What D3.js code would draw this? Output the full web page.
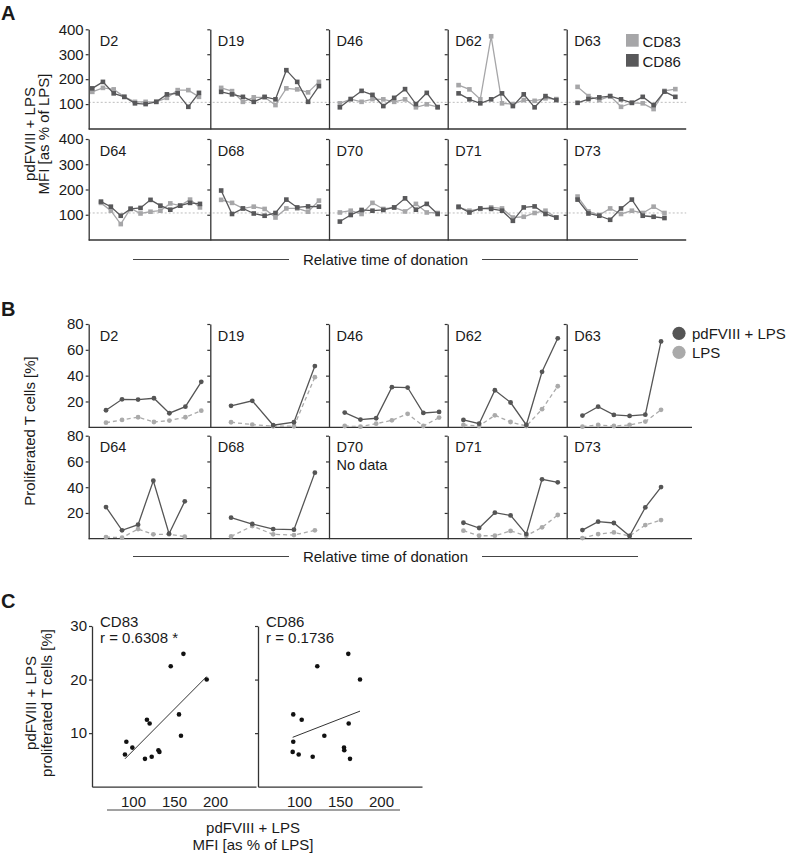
<!DOCTYPE html>
<html>
<head>
<meta charset="utf-8">
<script src="https://cdn.jsdelivr.net/npm/d3@7"></script>
<style>
  body { margin: 0; background: #fff; }
  svg text { font-family: "Liberation Sans", Arial, sans-serif; fill: #1a1a1a; }
</style>
</head>
<body>
<svg id="fig" width="787" height="856"></svg>
<script>
// data ------------------
const donors = ['D2', 'D19', 'D46', 'D62', 'D63', 'D64', 'D68', 'D70', 'D71', 'D73']

// A: MFI [as % of LPS] per donation (relative time index)
const timeA = [
    [-0.67, 0.31, 1.3, 2.28, 3.26, 4.24, 5.22, 6.2, 7.19, 8.17, 9.15],
    [0, 1, 2, 3, 4, 5, 6, 7, 8, 9],
    [0, 1, 2, 3, 4, 5, 6, 7, 8, 9],
    [0, 1, 2, 3, 4, 5, 6, 7, 8, 9],
    [0, 1, 2, 3, 4, 5, 6, 7, 8, 9],
    [0.13, 1.04, 1.95, 2.86, 3.77, 4.69, 5.6, 6.51, 7.42, 8.33, 9.24],
    [0, 1, 2, 3, 4, 5, 6, 7, 8, 9],
    [0, 1, 2, 3, 4, 5, 6, 7, 8, 9],
    [0, 1, 2, 3, 4, 5, 6, 7, 8, 9],
    [0, 1, 2, 3, 4, 5, 6, 7, 8]
]
const cd83A = [
    [149, 165, 159, 129, 109, 109, 109, 125, 156, 156, 129],
    [165, 152, 109, 127, 127, 96, 163, 159, 147, 189],
    [103, 120, 109, 120, 119, 109, 119, 87, 99, 89],
    [176, 159, 119, 372, 103, 100, 116, 113, 123, 120],
    [169, 132, 116, 132, 89, 105, 103, 80, 153, 160],
    [147, 116, 63, 125, 105, 112, 116, 145, 136, 160, 129],
    [159, 147, 125, 132, 123, 89, 125, 125, 112, 156],
    [109, 116, 103, 147, 123, 129, 113, 143, 109, 107],
    [129, 116, 123, 129, 125, 89, 92, 107, 116, 89],
    [172, 113, 99, 125, 103, 116, 107, 132, 107]
]
const cd86A = [
    [163, 189, 143, 129, 103, 100, 109, 139, 143, 89, 145],
    [149, 139, 129, 109, 129, 119, 236, 189, 109, 172],
    [87, 120, 153, 137, 92, 125, 160, 100, 145, 87],
    [143, 119, 103, 119, 143, 92, 139, 87, 132, 116],
    [105, 120, 127, 132, 119, 105, 129, 96, 150, 129],
    [152, 132, 96, 123, 127, 159, 136, 120, 136, 147, 143],
    [196, 103, 125, 105, 96, 107, 160, 129, 133, 132],
    [73, 99, 119, 116, 119, 129, 165, 120, 143, 103],
    [132, 109, 125, 123, 116, 76, 129, 133, 103, 89],
    [160, 105, 96, 80, 125, 160, 96, 92, 87]
]
const refMFI = 107
const ticksA = [100, 200, 300, 400]

// B: proliferated T cells [%]
const timeB = [
    [1.1, 2.12, 3.14, 4.15, 5.13, 6.15, 7.16],
    [1.32, 2.67, 4, 5.32, 6.65],
    [1, 2, 3, 4, 5, 6, 7],
    [1, 2, 3, 4, 5, 6, 7],
    [1, 2, 3, 4, 5, 6],
    [1.1, 2.12, 3.14, 4.11, 5.11, 6.11],
    [1.32, 2.67, 4, 5.32, 6.65],
    [],
    [1, 2, 3, 4, 5, 6, 7],
    [1, 2, 3, 4, 5, 6]
]
const pdB = [
    [13.2, 21.7, 21.5, 22.5, 10.9, 16, 35.2],
    [16.6, 20.5, 1.6, 3.9, 47.4],
    [11.4, 6, 7, 31.1, 30.8, 11.1, 11.9],
    [5.7, 2.8, 28.7, 19.2, 1.8, 43, 68.9],
    [9.1, 16, 9.6, 8.8, 9.8, 66.5],
    [24.6, 6.5, 10.9, 45, 3.9, 29],
    [16.3, 11.4, 7.5, 7, 51.3],
    [],
    [12.4, 8.3, 20.2, 18.1, 3.6, 46.1, 43.8],
    [6.7, 13.2, 12.2, 2.1, 24.3, 40.1]
]
const lpsB = [
    [3.6, 5.7, 7.8, 4.1, 5.2, 7.8, 12.9],
    [3.9, 2.1, 0.8, 0.8, 38.8],
    [1, 0.5, 2.8, 5.4, 10.4, 1, 7.5],
    [1.8, 1, 9.3, 4.1, 1, 14, 31.8],
    [0.5, 1.8, 1, 1.8, 4.4, 13.5],
    [1.3, 0.8, 7.5, 3.4, 3.4, 1.6],
    [1.8, 9.8, 3.4, 2.8, 6.5],
    [],
    [6.2, 2.3, 2.3, 6, 2.3, 8.8, 18.4],
    [0.5, 3.6, 4.9, 2.1, 10.6, 14.5]
]
const ticksB = [20, 40, 60, 80]

// C: correlation MFI vs proliferation
const prolifC = [6.0, 8.4, 7.3, 5.2, 12.5, 11.8, 5.6, 6.5, 6.8, 22.5, 13.5, 9.5, 24.8, 20.0]
const cd83C = [90.2, 91.9, 99.2, 114.6, 117, 120.3, 122.8, 132.2, 131, 146, 156.1, 158.5, 161.5, 189.9]
const cd86C = [99.6, 93, 154.9, 162.2, 103.3, 160.6, 116.7, 92.3, 155.2, 122.3, 93, 130.9, 160.1, 174.4]
const corrLabels = ['r = 0.6308 *', 'r = 0.1736']
const ticksCx = [100, 150, 200]
const ticksCy = [10, 20, 30]

// layout ------------------
const svg = d3.select('#fig')
const colX = [88.7, 210.3, 329, 447.7, 566.7]
const panelW = 119.5
const colours = {
    axis: '#333',
    cd83: '#a6a6a8',
    cd86: '#58585a',
    pd: '#555',
    lps: '#aaa',
    ref: '#bdbdbd'
}

function styleAxis(g, showText) {
    g.select('.domain').attr('stroke', colours.axis).attr('stroke-width', 1.3)
    g.selectAll('.tick line').attr('stroke', colours.axis).attr('stroke-width', 1.2)
    g.selectAll('.tick text')
        .attr('fill', '#1a1a1a')
        .style('font-size', '15px')
        .style('font-family', '"Liberation Sans", Arial, sans-serif')
    if (!showText) g.selectAll('.tick text').remove()
}

function leftAxis(x0, y, ticks, col) {
    const g = svg.append('g')
        .attr('transform', 'translate(' + x0 + ',0)')
        .call(d3.axisLeft(y).tickValues(ticks).tickSize(3).tickSizeOuter(0).tickPadding(2))
    styleAxis(g, col === 0)
}

function label(x, y, txt, size, weight) {
    return svg.append('text')
        .attr('x', x).attr('y', y)
        .style('font-size', (size || 15) + 'px')
        .style('font-weight', weight || 'normal')
        .text(txt)
}

function rotatedTitle(cx, cy, lines, dx) {
    const t = svg.append('text')
        .attr('transform', 'translate(' + cx + ',' + cy + ') rotate(-90)')
        .attr('text-anchor', 'middle')
        .style('font-size', '15px')
    lines.forEach((l, i) => t.append('tspan').attr('x', 0).attr('y', i * dx).text(l))
}

function timeCaption(lineY) {
    svg.append('line').attr('x1', 133).attr('x2', 289).attr('y1', lineY).attr('y2', lineY)
        .attr('stroke', '#444').attr('stroke-width', 1)
    svg.append('line').attr('x1', 482).attr('x2', 638).attr('y1', lineY).attr('y2', lineY)
        .attr('stroke', '#444').attr('stroke-width', 1)
    label(385.5, lineY + 5, 'Relative time of donation').attr('text-anchor', 'middle')
}

// panel A ------------------
label(1, 19.5, 'A', 20, 'bold')
const rowsA = [{ top: 29.3, bottom: 129 }, { top: 139, bottom: 240 }]
const mfiY = rowsA.map(r => d3.scaleLinear().domain([0, 400]).range([r.bottom, r.top]))

rowsA.forEach((r, row) => {
    svg.append('line')
        .attr('x1', colX[0]).attr('x2', colX[4] + panelW)
        .attr('y1', mfiY[row](refMFI)).attr('y2', mfiY[row](refMFI))
        .attr('stroke', colours.ref).attr('stroke-width', 1).attr('stroke-dasharray', '2,2')
    svg.append('line')
        .attr('x1', colX[0]).attr('x2', colX[4] + panelW)
        .attr('y1', r.bottom).attr('y2', r.bottom)
        .attr('stroke', colours.axis).attr('stroke-width', 1.3)
})

donors.forEach((name, i) => {
    const row = Math.floor(i / 5), col = i % 5
    const x0 = colX[col]
    const x = d3.scaleLinear().domain([-1, 10]).range([x0, x0 + panelW])
    const y = mfiY[row]
    leftAxis(x0, y, ticksA, col)
    label(x0 + (col === 0 ? 11 : 7.5), rowsA[row].top + 17, name, 14.5)

    const series = [
        { key: 'cd83', vals: cd83A[i] },
        { key: 'cd86', vals: cd86A[i] }
    ]
    series.forEach(s => {
        const pts = s.vals.map((v, j) => ({ t: timeA[i][j], v }))
        svg.append('path')
            .datum(pts)
            .attr('fill', 'none')
            .attr('stroke', colours[s.key])
            .attr('stroke-width', 1.3)
            .attr('d', d3.line().x(d => x(d.t)).y(d => y(d.v)))
        svg.append('g').selectAll('rect')
            .data(pts)
            .join('rect')
            .attr('x', d => x(d.t) - 2.3)
            .attr('y', d => y(d.v) - 2.3)
            .attr('width', 4.6).attr('height', 4.6)
            .attr('fill', colours[s.key])
    })
})

// legend A
const legA = [{ k: 'cd83', t: 'CD83' }, { k: 'cd86', t: 'CD86' }]
legA.forEach((d, i) => {
    svg.append('rect').attr('x', 626).attr('y', 34 + i * 20).attr('width', 12.7).attr('height', 12.7)
        .attr('fill', colours[d.k])
    label(642.5, 46.5 + i * 20, d.t)
})

rotatedTitle(34.5, 134, ['pdFVIII + LPS', 'MFI [as % of LPS]'], 14)
timeCaption(259.5)

// panel B ------------------
label(1, 316, 'B', 20, 'bold')
const rowsB = [{ top: 324, bottom: 427.3 }, { top: 435.7, bottom: 538.7 }]
const prolY = rowsB.map(r => d3.scaleLinear().domain([0, 80]).range([r.bottom, r.top]))

rowsB.forEach(r => {
    svg.append('line')
        .attr('x1', colX[0]).attr('x2', 692)
        .attr('y1', r.bottom).attr('y2', r.bottom)
        .attr('stroke', colours.axis).attr('stroke-width', 1.3)
})

donors.forEach((name, i) => {
    const row = Math.floor(i / 5), col = i % 5
    const x0 = colX[col]
    const x = d3.scaleLinear().domain([0, 7.6]).range([x0, x0 + panelW])
    const y = prolY[row]
    leftAxis(x0, y, ticksB, col)
    label(x0 + (col === 0 ? 11 : 7.5), rowsB[row].top + 16.5, name, 14.5)
    if (!timeB[i].length) {
        label(x0 + 7.5, rowsB[row].top + 34.5, 'No data', 14.5)
        return
    }
    const series = [
        { key: 'lps', vals: lpsB[i], dash: '4,3' },
        { key: 'pd', vals: pdB[i], dash: null }
    ]
    series.forEach(s => {
        const pts = s.vals.map((v, j) => ({ t: timeB[i][j], v }))
        svg.append('path')
            .datum(pts)
            .attr('fill', 'none')
            .attr('stroke', colours[s.key])
            .attr('stroke-width', 1.3)
            .attr('stroke-dasharray', s.dash)
            .attr('d', d3.line().x(d => x(d.t)).y(d => y(d.v)))
        svg.append('g').selectAll('circle')
            .data(pts)
            .join('circle')
            .attr('cx', d => x(d.t))
            .attr('cy', d => y(d.v))
            .attr('r', 2.4)
            .attr('fill', colours[s.key])
    })
})

// legend B
const legB = [{ k: 'pd', t: 'pdFVIII + LPS' }, { k: 'lps', t: 'LPS' }]
legB.forEach((d, i) => {
    svg.append('circle').attr('cx', 679).attr('cy', 333.3 + i * 19).attr('r', 6.6)
        .attr('fill', colours[d.k])
    label(692, 338.5 + i * 19, d.t)
})

rotatedTitle(35, 431, ['Proliferated T cells [%]'], 14)
timeCaption(556.5)

// panel C ------------------
label(1, 608, 'C', 20, 'bold')
const cX0 = [92, 258]
const cW = 164
const yC = d3.scaleLinear().domain([0, 30]).range([786.7, 626])
const markers = [
    { name: 'CD83', xs: cd83C },
    { name: 'CD86', xs: cd86C }
]

function fit(xs, ys) {
    const mx = d3.mean(xs), my = d3.mean(ys)
    const sxy = d3.sum(xs, (v, i) => (v - mx) * (ys[i] - my))
    const sxx = d3.sum(xs, v => (v - mx) * (v - mx))
    const b = sxy / sxx
    return v => my + b * (v - mx)
}

markers.forEach((m, k) => {
    const x0 = cX0[k]
    const x = d3.scaleLinear().domain([50, 250]).range([x0, x0 + cW])
    leftAxis(x0, yC, ticksCy, k)

    const gb = svg.append('g')
        .attr('transform', 'translate(0,' + yC(0) + ')')
        .call(d3.axisBottom(x).tickValues(ticksCx).tickSize(0).tickSizeOuter(0).tickPadding(9.5))
    styleAxis(gb, true)

    const line = fit(m.xs, prolifC)
    const ext = d3.extent(m.xs)
    svg.append('line')
        .attr('x1', x(ext[0])).attr('y1', yC(line(ext[0])))
        .attr('x2', x(ext[1])).attr('y2', yC(line(ext[1])))
        .attr('stroke', '#333').attr('stroke-width', 1)

    svg.append('g').selectAll('circle')
        .data(m.xs.map((v, i) => ({ x: v, y: prolifC[i] })))
        .join('circle')
        .attr('cx', d => x(d.x))
        .attr('cy', d => yC(d.y))
        .attr('r', 2.3)
        .attr('fill', '#111')

    label(x0 + 8, 626.5, m.name)
    label(x0 + 8, 642.5, corrLabels[k])
})

rotatedTitle(36, 703, ['pdFVIII + LPS', 'proliferated T cells [%]'], 15.5)

svg.append('line').attr('x1', 107).attr('x2', 400).attr('y1', 810).attr('y2', 810)
    .attr('stroke', '#444').attr('stroke-width', 1)
label(253, 833, 'pdFVIII + LPS').attr('text-anchor', 'middle')
label(253, 850, 'MFI [as % of LPS]').attr('text-anchor', 'middle')
</script>
</body>
</html>
